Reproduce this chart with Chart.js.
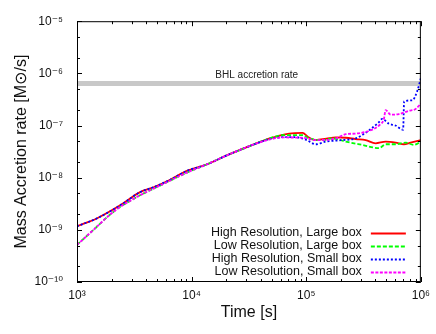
<!DOCTYPE html>
<html>
  <head>
    <title>Mass accretion rate</title>
    <script src="https://cdn.jsdelivr.net/npm/chart.js@4.4.1/dist/chart.umd.min.js"></script>
    <style>
      body{ margin:0; background:#fff; }
      #chart{ display:block; }
    </style>
  </head>
  <body>
    <canvas id="chart" width="436" height="334"></canvas>
  <script>
    // values (time in s, rate in Msun/s)
    var seriesLabels = ["High Resolution, Large box", "Low Resolution, Large box", "High Resolution, Small box", "Low Resolution, Small box"];

    var hrLargeTime = [1000, 1500, 2400, 3550, 4650, 6500, 9100, 13500, 20000, 34000, 48000, 71000, 93000, 103000, 121000, 150000, 181000, 222000, 270000, 330000, 403000, 493000, 602000, 711000, 813000, 1000000];
    var hrLargeRate = [1.17e-9, 1.67e-9, 2.98e-9, 5.28e-9, 6.55e-9, 9.13e-9, 1.35e-8, 1.79e-8, 2.64e-8, 4.24e-8, 5.66e-8, 7.02e-8, 7.24e-8, 6.1e-8, 5.26e-8, 5.6e-8, 5.91e-8, 5.83e-8, 5.5e-8, 5.26e-8, 4.56e-8, 4.91e-8, 4.7e-8, 4.37e-8, 4.7e-8, 5.26e-8];

    var lrLargeTime = [1000, 1400, 2085, 3325, 5300, 9100, 13500, 20000, 34000, 48000, 62000, 93000, 106000, 138600, 169400, 221500, 309000, 431000, 493000, 602000, 736000, 869000, 1000000];
    var lrLargeRate = [5.15e-10, 1.01e-9, 2.23e-9, 4.26e-9, 7.05e-9, 1.25e-8, 1.79e-8, 2.64e-8, 4.24e-8, 5.66e-8, 6.53e-8, 6.53e-8, 5.66e-8, 5.26e-8, 5.66e-8, 4.91e-8, 4.24e-8, 3.68e-8, 4.37e-8, 4.37e-8, 4.7e-8, 4.24e-8, 4.91e-8];

    var hrSmallTime = [1000, 1500, 2400, 3550, 4650, 6500, 9100, 13500, 20000, 34000, 48000, 63000, 80000, 100000, 121000, 148000, 207000, 270000, 353000, 431000, 460000, 527000, 600000, 700000, 715000, 840000, 929000, 1000000];
    var hrSmallRate = [1.17e-9, 1.67e-9, 2.98e-9, 5.28e-9, 6.55e-9, 9.13e-9, 1.35e-8, 1.79e-8, 2.64e-8, 4.24e-8, 5.5e-8, 6.0e-8, 6.0e-8, 5.3e-8, 4.37e-8, 4.91e-8, 5.26e-8, 5.66e-8, 8.09e-8, 1.16e-7, 1.34e-7, 1.08e-7, 1.0e-7, 8.3e-8, 2.9e-7, 3.04e-7, 4.54e-7, 8.09e-7];

    var lrSmallTime = [1000, 1400, 2085, 3325, 5300, 9100, 13500, 20000, 34000, 48000, 63000, 93000, 121000, 181000, 222000, 270000, 353000, 431000, 476000, 493000, 546000, 644000, 786000, 900000, 1000000];
    var lrSmallRate = [5.15e-10, 1.01e-9, 2.23e-9, 4.26e-9, 7.05e-9, 1.25e-8, 1.79e-8, 2.64e-8, 4.24e-8, 5.4e-8, 5.9e-8, 5.83e-8, 5.26e-8, 5.66e-8, 6.81e-8, 7.02e-8, 7.89e-8, 1.0e-7, 1.34e-7, 1.98e-7, 1.61e-7, 1.66e-7, 1.92e-7, 2.07e-7, 2.64e-7];

    var bhlTime = [1000, 1000000];
    var bhlRate = [6.4e-7, 6.4e-7];
    var bhlLabel = "BHL accretion rate";

    var xTickValues = [1e3, 1e4, 1e5, 1e6];
    var xTickLabels = ["10\u00b3", "10\u2074", "10\u2075", "10\u2076"];
    var yTickValues = [1e-10, 1e-9, 1e-8, 1e-7, 1e-6, 1e-5];
    var yTickLabels = ["10\u207b\u00b9\u2070", "10\u207b\u2079", "10\u207b\u2078", "10\u207b\u2077", "10\u207b\u2076", "10\u207b\u2075"];

    var FONT = "'Liberation Sans', Arial, 'DejaVu Sans', sans-serif";

    function pts(t, r){
      var out = [];
      for (var i = 0; i < t.length; i++){
        out.push({x: t[i], y: r[i]});
      }
      return out;
    }

    function line(label, t, r, color, dash, order){
      return {
        label: label,
        data: pts(t, r),
        borderColor: color,
        borderWidth: 1.8,
        borderDash: dash,
        pointRadius: 0,
        cubicInterpolationMode: 'monotone',
        order: order
      };
    }

    // gnuplot style frame, inward ticks, BHL label and legend
    var gnuplotBits = {
      id: 'gnuplotBits',
      afterDraw: function(chart){
        var ctx = chart.ctx;
        var a = chart.chartArea;
        var xs = chart.scales.x, ys = chart.scales.y;
        ctx.save();
        ctx.strokeStyle = '#000';
        ctx.lineWidth = 1;
        ctx.strokeRect(a.left + 0.5, a.top + 0.5, a.right - a.left - 1, a.bottom - a.top - 1);

        ctx.beginPath();
        for (var e = 3; e <= 6; e++){
          for (var k = 1; k <= 9; k++){
            var v = k * Math.pow(10, e);
            if (v > 1e6) break;
            var px = Math.round(xs.getPixelForValue(v)) + 0.5;
            var len = (k == 1) ? 5 : 3;
            ctx.moveTo(px, a.bottom); ctx.lineTo(px, a.bottom - len);
            ctx.moveTo(px, a.top); ctx.lineTo(px, a.top + len);
          }
        }
        for (var e2 = -10; e2 <= -5; e2++){
          [1, 2, 5].forEach(function(k){
            var v = k * Math.pow(10, e2);
            if (v > 1e-5) return;
            var py = Math.round(ys.getPixelForValue(v)) + 0.5;
            var len = (k == 1) ? 5 : 3;
            ctx.moveTo(a.left, py); ctx.lineTo(a.left + len, py);
            ctx.moveTo(a.right, py); ctx.lineTo(a.right - len, py);
          });
        }
        ctx.stroke();

        // label over the grey band
        ctx.fillStyle = '#222';
        ctx.font = '10px ' + FONT;
        ctx.textAlign = 'center';
        ctx.textBaseline = 'bottom';
        ctx.fillText(bhlLabel, xs.getPixelForValue(3.7e4), ys.getPixelForValue(bhlRate[0]) - 3);

        // legend: text on the left, sample on the right
        ctx.font = '12.5px ' + FONT;
        ctx.textAlign = 'right';
        ctx.textBaseline = 'middle';
        var sets = chart.data.datasets;
        for (var i = 0; i < 4; i++){
          var ds = sets[i];
          var y = a.bottom - 49 + i * 13;
          ctx.fillStyle = '#111';
          ctx.fillText(ds.label, a.right - 59, y);
          ctx.beginPath();
          ctx.setLineDash(ds.borderDash || []);
          ctx.strokeStyle = ds.borderColor;
          ctx.lineWidth = 1.8;
          ctx.moveTo(a.right - 50, y + 0.5);
          ctx.lineTo(a.right - 15, y + 0.5);
          ctx.stroke();
        }
        ctx.restore();
      }
    };

    new Chart(document.getElementById('chart'), {
      type: 'line',
      data: {
        datasets: [
          line(seriesLabels[0], hrLargeTime, hrLargeRate, '#ff0000', [], 3),
          line(seriesLabels[1], lrLargeTime, lrLargeRate, '#00ff00', [4, 2], 2),
          line(seriesLabels[2], hrSmallTime, hrSmallRate, '#0000ff', [2, 2], 1),
          line(seriesLabels[3], lrSmallTime, lrSmallRate, '#ff00ff', [3, 1.5], 0),
          {
            label: bhlLabel,
            data: pts(bhlTime, bhlRate),
            borderColor: '#c8c8c8',
            borderWidth: 5,
            pointRadius: 0,
            order: 5
          }
        ]
      },
      options: {
        responsive: false,
        animation: false,
        devicePixelRatio: 1,
        layout: { padding: { left: 0, top: 15, right: 14, bottom: 0 } },
        plugins: {
          legend: { display: false },
          tooltip: { enabled: false }
        },
        scales: {
          x: {
            type: 'logarithmic',
            min: 1e3,
            max: 1e6,
            grid: { display: false, drawTicks: false },
            border: { display: false },
            afterBuildTicks: function(s){ s.ticks = xTickValues.map(function(v){ return {value: v}; }); },
            afterFit: function(s){ s.height = 52; },
            ticks: {
              autoSkip: false,
              maxRotation: 0,
              padding: 6,
              color: '#111',
              font: { family: FONT, size: 12 },
              callback: function(v){ return xTickLabels[xTickValues.indexOf(v)]; }
            },
            title: {
              display: true,
              text: 'Time [s]',
              color: '#111',
              font: { family: FONT, size: 16 },
              padding: { top: 0, bottom: 12 }
            }
          },
          y: {
            type: 'logarithmic',
            min: 1e-10,
            max: 1e-5,
            grid: { display: false, drawTicks: false },
            border: { display: false },
            afterBuildTicks: function(s){ s.ticks = yTickValues.map(function(v){ return {value: v}; }); },
            afterFit: function(s){ s.width = 77; },
            ticks: {
              autoSkip: false,
              padding: 14,
              color: '#111',
              font: { family: FONT, size: 12 },
              callback: function(v){
                for (var i = 0; i < yTickValues.length; i++){
                  if (Math.abs(Math.log10(v) - Math.log10(yTickValues[i])) < 1e-6) return yTickLabels[i];
                }
                return '';
              }
            },
            title: {
              display: true,
              text: 'Mass Accretion rate [M\u2299/s]',
              color: '#111',
              font: { family: FONT, size: 16 },
              padding: { top: 12, bottom: 0 }
            }
          }
        }
      },
      plugins: [gnuplotBits]
    });
  </script>
  </body>
</html>
